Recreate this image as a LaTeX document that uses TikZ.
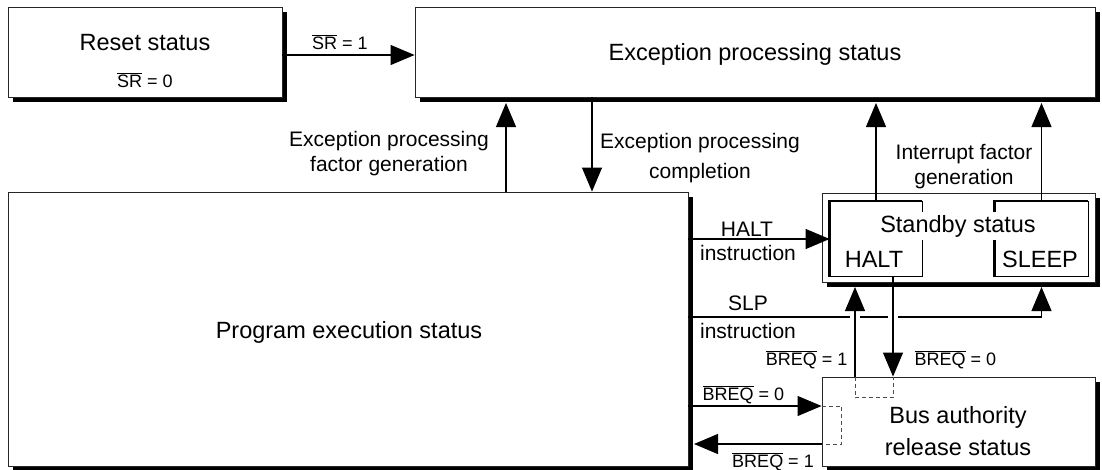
\documentclass[tikz,border=0pt]{standalone}
\usepackage{fontspec}
\setmainfont{Liberation Sans}
\usetikzlibrary{arrows.meta,shadows}

\newcommand{\ovl}[1]{$\overline{\mbox{#1}}$}

\begin{document}
\begin{tikzpicture}[x=1pt,y=-1pt,
  box/.style={draw=black!85,line width=0.9pt,fill=white,inner sep=0pt,
    drop shadow={shadow xshift=5pt,shadow yshift=-5pt,fill=black,opacity=1}},
  big/.style={font=\fontsize{23.5}{28}\selectfont},
  lbl/.style={font=\fontsize{21}{25}\selectfont,align=center},
  sml/.style={font=\fontsize{18}{22}\selectfont},
  arr/.style={line width=1.1pt,-{Triangle[length=24pt,width=20pt]}},
  dashline/.style={black!70,line width=0.8pt,dash pattern=on 4pt off 3pt}]
\useasboundingbox (0,0) rectangle (1102,469);

% Boxes
\node[box,minimum width=274pt,minimum height=90pt] (reset) at (145,52) {};
\node[box,minimum width=680pt,minimum height=90pt] (exc) at (755,52) {};
\node[box,minimum width=680pt,minimum height=274pt] (prog) at (348,329) {};
\node[box,minimum width=273pt,minimum height=89pt] (stby) at (958.5,237.5) {};
\node[box,minimum width=273pt,minimum height=89pt] (bus) at (958.5,421.5) {};
\node[draw,line width=0.8pt,inner sep=0pt,minimum width=92pt,minimum height=75pt] (halt) at (876,239) {};
\node[draw,line width=0.8pt,inner sep=0pt,minimum width=93pt,minimum height=75pt] (sleep) at (1041.5,239) {};
\draw[line width=2.6pt] (halt.south west) -- (halt.north west) -- (halt.north east);
\draw[line width=2.6pt] (sleep.south west) -- (sleep.north west) -- (sleep.north east);

% Shadow edges and vertical lines
\coordinate (excB) at (0,103);
\coordinate (stbyB) at (0,287);
\coordinate (progE) at (694,0);
\coordinate (xUp) at (506,0); \coordinate (xDn) at (592,0);
\coordinate (xA) at (855,0); \coordinate (xB) at (893,0);

% Texts in boxes
\node[big,anchor=base] (resetT) at (145,50) {Reset status};
\node[sml,anchor=base] (resetSR) at (145,87) {\ovl{SR} = 0};
\node[big,anchor=base] (excT) at (755,60) {Exception processing status};
\node[big,anchor=base] (progT) at (349,338) {Program execution status};
\node[big,anchor=base,fill=white,inner sep=3pt] (stbyT) at (958,232) {Standby status};
\node[big,anchor=base] (haltT) at (874,267) {HALT};
\node[big,anchor=base] (sleepT) at (1040,267) {SLEEP};
\node[big,align=center,font=\fontsize{23.5}{32}\selectfont] (busT) at (958,431) {Bus authority\\release status};

% Transitions
\draw[arr] ([yshift=-3pt]reset.east) -- ([yshift=-3pt]exc.west);
\node[sml,anchor=base] (srOne) at (340,49) {\ovl{SR} = 1};

\draw[arr] (prog.north -| xUp) -- (excB -| xUp);
\draw[arr] (exc.south -| xDn) -- (prog.north -| xDn);
\node[lbl] (excGen) at (389,154) {Exception processing\\factor generation};
\node[lbl,font=\fontsize{21}{30}\selectfont] (excEnd) at (700,158) {Exception processing\\completion};

\draw[arr] (halt.north) -- (halt.north |- excB);
\draw[arr] (sleep.north) -- (sleep.north |- excB);
\node[lbl,fill=white,inner sep=1pt] (intGen) at (964,167) {Interrupt factor\\generation};

\draw[arr] (prog.east |- halt.west) -- (halt.west);
\node[lbl,anchor=base] (haltIn) at (747,236) {HALT};
\node[lbl,anchor=base] (haltIn2) at (748,260) {instruction};

\draw[arr] (prog.east |- 0,317) -| (sleep.south |- stbyB);
\node[lbl,anchor=base] (slpIn) at (748,310) {SLP};
\node[lbl,anchor=base] (slpIn2) at (748,338) {instruction};
\foreach \c in {xA,xB}
  \draw[white,line width=3pt] ([xshift=-5pt]\c |- 0,317) -- ([xshift=5pt]\c |- 0,317);

\draw[arr] (bus.north -| xA) -- (stbyB -| xA);
\draw[arr] (halt.south -| xB) -- (bus.north -| xB);
\node[sml,anchor=base east] (brOneA) at (851,365) {\ovl{BREQ} = 1};
\node[sml,anchor=base west] (brZeroA) at (911,365) {\ovl{BREQ} = 0};

\draw[arr] (prog.east |- 0,406) -- (bus.west |- 0,406);
\draw[arr] (bus.west |- 0,444) -- (progE |- 0,444);
\node[sml,anchor=base west] (brZeroB) at (699,400) {\ovl{BREQ} = 0};
\node[sml,anchor=base] (brOneB) at (773,467) {\ovl{BREQ} = 1};

% Dashed paths inside bus box
\draw[dashline] (bus.north -| xA) -- ++(0,21) -| (bus.north -| xB);
\draw[dashline] (bus.west |- 0,406) -- ++(20,0) |- (bus.west |- 0,444);
\end{tikzpicture}
\end{document}
